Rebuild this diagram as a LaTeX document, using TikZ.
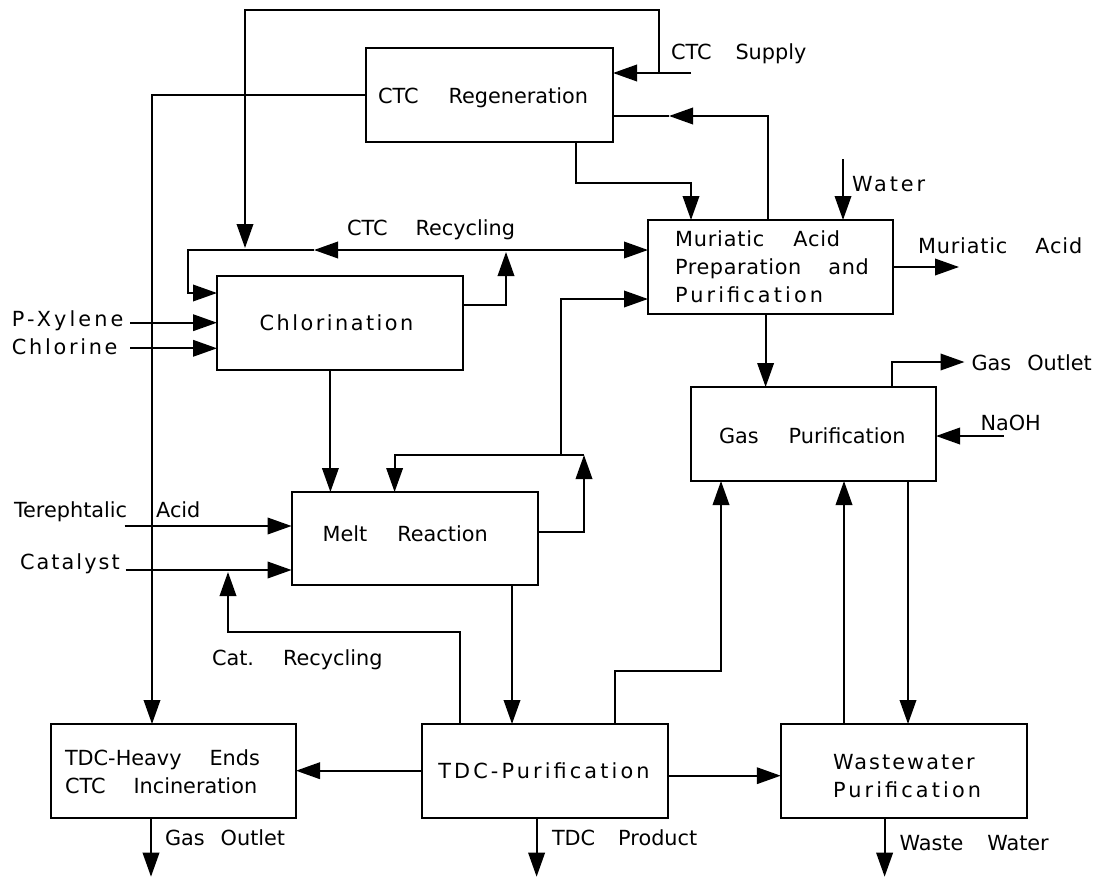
\documentclass[tikz,border=0pt]{standalone}
\usepackage{fontspec}
\setmainfont{DejaVu Sans}
\usetikzlibrary{arrows.meta}
\newcommand\ls[2]{{\addfontfeatures{LetterSpace=#1}#2}}
\newcommand\gap[1]{\hspace{#1pt}}
\tikzset{
  box/.style={draw, line width=2pt, inner sep=0pt, outer sep=0pt},
  lbl/.style={anchor=base west, inner sep=0pt, outer sep=0pt, font=\fontsize{20.8}{26}\selectfont},
  ln/.style={line width=2pt},
  arr/.style={line width=2pt, -{Triangle[length=24pt,width=16.5pt]}},
}
\begin{document}
\begin{tikzpicture}[x=1pt,y=-1pt]
\useasboundingbox (0,0) rectangle (1097,878);
% boxes
\node[box, minimum width=247pt, minimum height=94pt] (regen) at (489.5,95) {};
\node[box, minimum width=246pt, minimum height=94pt] (chlor) at (340,323) {};
\node[box, minimum width=245pt, minimum height=94pt] (murA) at (770.5,267) {};
\node[box, minimum width=246pt, minimum height=93pt] (melt) at (414.6,538.5) {};
\node[box, minimum width=245pt, minimum height=94pt] (gasp) at (813.5,434) {};
\node[box, minimum width=245pt, minimum height=94pt] (heavy) at (173.5,771) {};
\node[box, minimum width=246pt, minimum height=94pt] (tdcp) at (545,771) {};
\node[box, minimum width=246pt, minimum height=94pt] (waste) at (903.75,771) {};
% texts
\node[lbl] (tRegen) at (378,103.6) {CTC\gap{30}Regeneration};
\node[lbl] (tSupply) at (671,59.5) {CTC\gap{24}Supply};
\node[lbl] (tRecyc) at (347,235.6) {CTC\gap{28}Recycling};
\node[lbl] (tWater) at (852,191.6) {\ls{14}{Water}};
\node[lbl] (tMa1) at (675,246.2) {\ls{4}{Muriatic}\gap{29}\ls{4}{Acid}};
\node[lbl] (tMa2) at (675,274.1) {\ls{3}{Preparation}\gap{27}\ls{3}{and}};
\node[lbl] (tMa3) at (675,302.9) {\ls{15}{Purification}};
\node[lbl] (tMaOut) at (918,253.4) {\ls{4}{Muriatic}\gap{28}\ls{4}{Acid}};
\node[lbl] (tChlor) at (259.6,330.4) {\ls{12}{Chlorination}};
\node[lbl] (tPx) at (12,326.6) {\ls{15}{P-Xylene}};
\node[lbl] (tCl) at (12,354.3) {\ls{13}{Chlorine}};
\node[lbl] (tGo1) at (971.6,370.1) {Gas\gap{16}Outlet};
\node[lbl] (tNaOH) at (980.5,430.1) {NaOH};
\node[lbl] (tGasP) at (719,443.4) {Gas\gap{30}Purification};
\node[lbl] (tTer) at (14,517.1) {Terephtalic\gap{29}Acid};
\node[lbl] (tMelt) at (322.7,541.8) {Melt\gap{30}Reaction};
\node[lbl] (tCat) at (20,569.1) {\ls{10}{Catalyst}};
\node[lbl] (tCatR) at (212,665.6) {Cat.\gap{29}Recycling};
\node[lbl] (tHv1) at (65,765.1) {TDC-Heavy\gap{28}Ends};
\node[lbl] (tHv2) at (65,793.1) {CTC\gap{28}Incineration};
\node[lbl] (tTdc) at (438.3,778.4) {\ls{15}{TDC-Purification}};
\node[lbl] (tWw1) at (833,769.1) {\ls{10}{Wastewater}};
\node[lbl] (tWw2) at (833,797.6) {\ls{15}{Purification}};
\node[lbl] (tGo2) at (165,845.9) {Gas\gap{16}Outlet};
\node[lbl] (tProd) at (552,845.6) {TDC\gap{23}Product};
\node[lbl] (tWwOut) at (899.5,850.1) {Waste\gap{24}Water};
% coordinates
\coordinate (supIn) at (691,73);
\coordinate (supJ) at (659,73);
\coordinate (topR) at (659,10);
\coordinate (topL) at (245,10);
\coordinate (rcA) at (245,248);
\coordinate (rgL) at (152,95);
\coordinate (rb1) at (575.5,183);
\coordinate (rb2) at (691,183);
\coordinate (mt1) at (768,116);
\coordinate (mtTip) at (669,116);
\coordinate (wIn) at (843,159);
\coordinate (maOut) at (959,267);
\coordinate (rcJ) at (506,250);
\coordinate (rcTipL) at (314,250);
\coordinate (rcL) at (188,250);
\coordinate (rcD) at (188,293);
\coordinate (co1) at (506,305);
\coordinate (rcUp) at (506,252);
\coordinate (px) at (130,322.7);
\coordinate (cl) at (130,348.3);
\coordinate (cd) at (330.4,430);
\coordinate (mo1) at (584,532);
\coordinate (mo2) at (584,455);
\coordinate (mr2) at (394.6,455);
\coordinate (mu1) at (560.6,455);
\coordinate (mu2) at (560.6,299);
\coordinate (ter) at (124.5,526);
\coordinate (cat) at (125.6,570);
\coordinate (cr1) at (460,631.7);
\coordinate (cr2) at (228,631.7);
\coordinate (cr3) at (228,572);
\coordinate (md) at (512,650);
\coordinate (th) at (350,770.7);
\coordinate (tw) at (700,775.7);
\coordinate (tg1) at (614.6,670.7);
\coordinate (tg2) at (721,670.7);
\coordinate (wg) at (844,600);
\coordinate (gw) at (908,600);
\coordinate (mg) at (765.6,350);
\coordinate (go1) at (891.7,362);
\coordinate (go2) at (964.5,362);
\coordinate (na) at (1003.6,436);
\coordinate (ho) at (151,876.7);
\coordinate (po) at (536.6,876.7);
\coordinate (wo) at (884.6,876.7);
% connectors
\draw[arr] (supIn) -- (regen.east |- supIn);
\draw[arr] (supJ) -- (topR) -- (topL) -- (rcA);
\draw[arr] (regen.west |- rgL) -- (rgL) -- (heavy.north -| rgL);
\draw[arr] (regen.south -| rb1) -- (rb1) -- (rb2) -- (murA.north -| rb2);
\draw[arr] (murA.north -| mt1) -- (mt1) -- (mtTip);
\draw[ln] (mtTip) -- (regen.east |- mtTip);
\draw[arr] (wIn) -- (murA.north -| wIn);
\draw[arr] (murA.east |- maOut) -- (maOut);
\draw[arr] (rcJ) -- (murA.west |- rcJ);
\draw[arr] (rcJ) -- (rcTipL);
\draw[arr] (rcTipL) -- (rcL) -- (rcD) -- (chlor.west |- rcD);
\draw[arr] (chlor.east |- co1) -- (co1) -- (rcUp);
\draw[arr] (px) -- (chlor.west |- px);
\draw[arr] (cl) -- (chlor.west |- cl);
\draw[arr] (chlor.south -| cd) -- (melt.north -| cd);
\draw[arr] (melt.east |- mo1) -- (mo1) -- (mo2);
\draw[arr] (mo2) -- (mr2) -- (melt.north -| mr2);
\draw[arr] (mu1) -- (mu2) -- (murA.west |- mu2);
\draw[arr] (ter) -- (melt.west |- ter);
\draw[arr] (cat) -- (melt.west |- cat);
\draw[arr] (tdcp.north -| cr1) -- (cr1) -- (cr2) -- (cr3);
\draw[arr] (melt.south -| md) -- (tdcp.north -| md);
\draw[arr] (tdcp.west |- th) -- (heavy.east |- th);
\draw[arr] (tdcp.east |- tw) -- (waste.west |- tw);
\draw[arr] (tdcp.north -| tg1) -- (tg1) -- (tg2) -- (gasp.south -| tg2);
\draw[arr] (waste.north -| wg) -- (gasp.south -| wg);
\draw[arr] (gasp.south -| gw) -- (waste.north -| gw);
\draw[arr] (murA.south -| mg) -- (gasp.north -| mg);
\draw[arr] (gasp.north -| go1) -- (go1) -- (go2);
\draw[arr] (na) -- (gasp.east |- na);
\draw[arr] (heavy.south -| ho) -- (ho);
\draw[arr] (tdcp.south -| po) -- (po);
\draw[arr] (waste.south -| wo) -- (wo);
\end{tikzpicture}
\end{document}
